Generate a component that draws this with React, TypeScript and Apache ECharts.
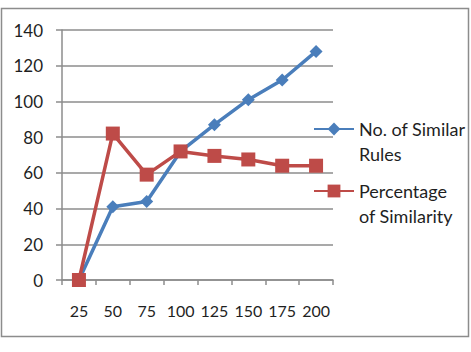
import React, { useEffect, useRef } from "react";
import * as echarts from "echarts";

const categories = ["25", "50", "75", "100", "125", "150", "175", "200"];
const similarRules = [0, 41, 44, 72, 87, 101, 112, 128];
const similarityPct = [0, 82, 59, 72, 69.5, 67.5, 64, 64];
const seriesNames = ["No. of Similar Rules", "Percentage of Similarity"];
const legendLines: Record<string, string[]> = {
  "No. of Similar Rules": ["No. of Similar", "Rules"],
  "Percentage of Similarity": ["Percentage", "of Similarity"],
};

const FONT = "Lato";
const BLUE = "#4A7EBB";
const RED = "#BE4B48";
const TEXT = "#1f1f1f";

export default function App() {
  const ref = useRef<HTMLDivElement>(null);
  useEffect(() => {
    const chart = echarts.init(ref.current!, null, { renderer: "svg" });
    const legendText = {
      color: TEXT,
      fontFamily: FONT,
      fontSize: 18,
      lineHeight: 25,
    };
    // leading empty line keeps the first text line level with the icon
    const fmt = (name: string) => "\n" + legendLines[name].join("\n");
    chart.setOption({
      animation: false,
      backgroundColor: "#fff",
      textStyle: { fontFamily: FONT },
      graphic: [
        {
          type: "rect",
          shape: { x: 1.5, y: 8.5, width: 467, height: 328 },
          style: { fill: "none", stroke: "#8c8c8c", lineWidth: 1.5 },
          silent: true,
        },
      ],
      grid: { left: 62, right: 138, top: 30, bottom: 72 },
      legend: [
        {
          data: [seriesNames[0]],
          formatter: fmt,
          left: 313,
          top: 91.5,
          padding: 0,
          itemWidth: 40,
          itemHeight: 16,
          textStyle: legendText,
        },
        {
          data: [seriesNames[1]],
          formatter: fmt,
          left: 313,
          top: 153.5,
          padding: 0,
          itemWidth: 40,
          itemHeight: 16,
          textStyle: legendText,
        },
      ],
      xAxis: {
        type: "category",
        data: categories,
        boundaryGap: true,
        axisLine: { lineStyle: { color: "#8c8c8c", width: 1.5 } },
        axisTick: { show: true, length: 5, lineStyle: { color: "#8c8c8c", width: 1.5 } },
        axisLabel: { color: TEXT, fontSize: 16, fontFamily: FONT, margin: 22, interval: 0 },
      },
      yAxis: {
        type: "value",
        min: 0,
        max: 140,
        interval: 20,
        axisLine: { show: true, lineStyle: { color: "#8c8c8c", width: 1.5 } },
        axisTick: { show: true, length: 6, lineStyle: { color: "#8c8c8c", width: 1.5 } },
        axisLabel: { color: TEXT, fontSize: 17, fontFamily: FONT, margin: 19 },
        splitLine: { lineStyle: { color: "#8c8c8c", width: 1.5 } },
      },
      series: [
        {
          name: seriesNames[0],
          type: "line",
          data: similarRules,
          symbol: "diamond",
          symbolSize: 13,
          lineStyle: { color: BLUE, width: 3.5 },
          itemStyle: { color: BLUE },
        },
        {
          name: seriesNames[1],
          type: "line",
          data: similarityPct,
          symbol: "rect",
          symbolSize: 14,
          lineStyle: { color: RED, width: 3.5 },
          itemStyle: { color: RED },
        },
      ],
    });
    return () => chart.dispose();
  }, []);
  return (
    <div
      ref={ref}
      style={{ position: "fixed", left: 0, top: 0, width: 471, height: 352 }}
    />
  );
}
